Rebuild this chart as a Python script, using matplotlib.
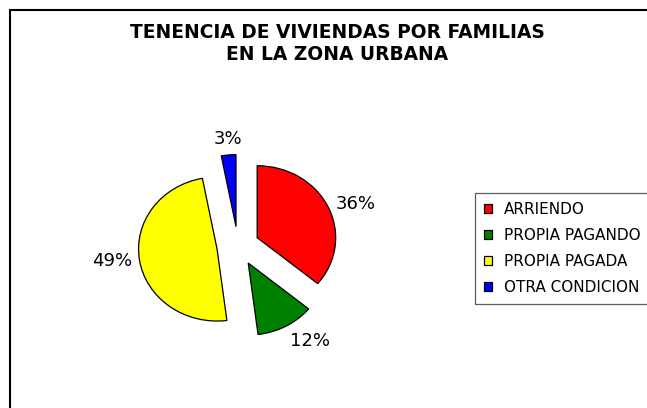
import matplotlib
matplotlib.use("Agg")
import matplotlib.pyplot as plt
import matplotlib.patches as mpatches
import numpy as np

categories = ["ARRIENDO", "PROPIA PAGANDO", "PROPIA PAGADA", "OTRA CONDICION"]
values = [36, 12, 49, 3]
colors = ["#FF0000", "#008000", "#FFFF00", "#0000FF"]
title = "TENENCIA DE VIVIENDAS POR FAMILIAS\nEN LA ZONA URBANA"

W, H = 647, 408
fig = plt.figure(figsize=(W / 100, H / 100), dpi=100)
plt.rcParams['font.family'] = ['DejaVu Sans']

# outer chart border (left and top visible)
fig.patches.append(mpatches.Rectangle((9.5 / W, -0.2), 1.5, 1.2 - 9.5 / H,
                                      transform=fig.transFigure, fill=False,
                                      edgecolor="black", linewidth=1.5))

ax = fig.add_axes([0, 0, 1, 1])
wedges, texts, autotexts = ax.pie(values, colors=colors, startangle=90, counterclock=False,
                                  explode=[0.27] * len(values), radius=1,
                                  autopct='%1.0f%%', pctdistance=1.1,
                                  wedgeprops=dict(edgecolor="black", linewidth=0.9))
for w, t in zip(wedges, autotexts):
    th = np.deg2rad((w.theta1 + w.theta2) / 2)
    c, s = np.cos(th), np.sin(th)
    t.set_ha('left' if c > 0.3 else ('right' if c < -0.3 else 'center'))
    t.set_va('bottom' if s > 0.5 else ('top' if s < -0.5 else 'center'))
    t.set_fontsize(13)
    t.set_color('black')

cx, cy, rx, ry = 238, 246, 78.5, 72
ax.set_aspect('auto')
ax.set_xlim(-cx / rx, (W - cx) / rx)
ax.set_ylim(-(H - cy) / ry, cy / ry)
ax.axis('off')

fig.text(337 / W, 1 - 23 / H, title, ha='center', va='top', fontsize=13.4,
         fontweight='bold', linespacing=1.2)

leg = fig.legend(wedges, categories, loc='upper left',
                 bbox_to_anchor=(475 / W, 1 - 193 / H, 1.2, 0), mode='expand',
                 fontsize=11, frameon=True, fancybox=False, borderaxespad=0,
                 handlelength=0.5, handleheight=0.5, handletextpad=0.8,
                 labelspacing=0.72, borderpad=0.6)
leg.get_frame().set_edgecolor('#333333')
leg.get_frame().set_linewidth(0.9)

fig.savefig("out.png", dpi=100)
